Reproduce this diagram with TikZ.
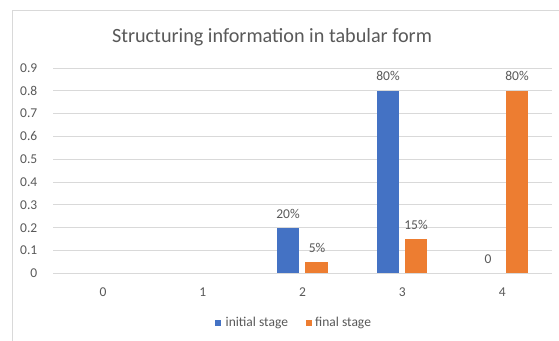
\documentclass[tikz,border=0pt]{standalone}
\usepackage{fontspec}
\setmainfont{Carlito}
\definecolor{barblue}{HTML}{4472C4}
\definecolor{barorange}{HTML}{ED7D31}
\definecolor{gridgray}{HTML}{D9D9D9}
\definecolor{textgray}{HTML}{595959}
\begin{document}
\begin{tikzpicture}[x=1pt,y=-1pt,
  gridline/.style={draw=gridgray,line width=0.9pt},
  ticklabel/.style={text=textgray,font=\fontsize{13.5}{15}\selectfont,inner sep=0pt},
  datalabel/.style={text=textgray,font=\fontsize{13.5}{15}\selectfont,inner sep=0pt},
  bluebar/.style={fill=barblue,draw=none},
  orangebar/.style={fill=barorange,draw=none}]
\useasboundingbox (0,0) rectangle (559,340);
\fill[white] (0,0) rectangle (559,340);
% chart border
\draw[draw=gridgray,line width=0.8pt] (12,345) -- (12,10) -- (565,10);
% title
\node[text=textgray,font=\fontsize{20.2}{23}\selectfont,inner sep=0pt] (title) at (272,37) {Structuring information in tabular form};
% gridlines and y labels
\foreach \v/\t [count=\i from 0] in {0/0,1/0.1,2/0.2,3/0.3,4/0.4,5/0.5,6/0.6,7/0.7,8/0.8,9/0.9}{
  \pgfmathsetmacro{\yy}{273.3-22.81*\v}
  \draw[gridline] (53,\yy) -- (552,\yy);
  \node[ticklabel,anchor=east] (y\i) at (37.5,\yy) {\t};
}
% x labels
\foreach \c in {0,1,2,3,4}{
  \pgfmathsetmacro{\xx}{103+99.8*\c}
  \node[ticklabel] (x\c) at (\xx,292) {\c};
}
% bars
\fill[bluebar] (277.3,273.3) rectangle (299.3,227.7);
\fill[orangebar] (305.3,273.3) rectangle (328.3,261.9);
\fill[bluebar] (377.3,273.3) rectangle (399.3,90.8);
\fill[orangebar] (405.3,273.3) rectangle (427.3,239.1);
\fill[orangebar] (505.7,273.3) rectangle (527.7,90.8);
% data labels
\node[datalabel] (l1) at (288,214) {20\%};
\node[datalabel] (l2) at (317,248) {5\%};
\node[datalabel] (l3) at (388,76) {80\%};
\node[datalabel] (l4) at (416,225) {15\%};
\node[datalabel] (l5) at (488,259) {0};
\node[datalabel] (l6) at (517,76) {80\%};
% legend
\fill[barblue] (215,319.5) rectangle (221,325.5);
\node[ticklabel,anchor=west] (leg1) at (225.5,322.5) {initial stage};
\fill[barorange] (306,319.5) rectangle (312,325.5);
\node[ticklabel,anchor=west] (leg2) at (315,322.5) {final stage};
\end{tikzpicture}
\end{document}
